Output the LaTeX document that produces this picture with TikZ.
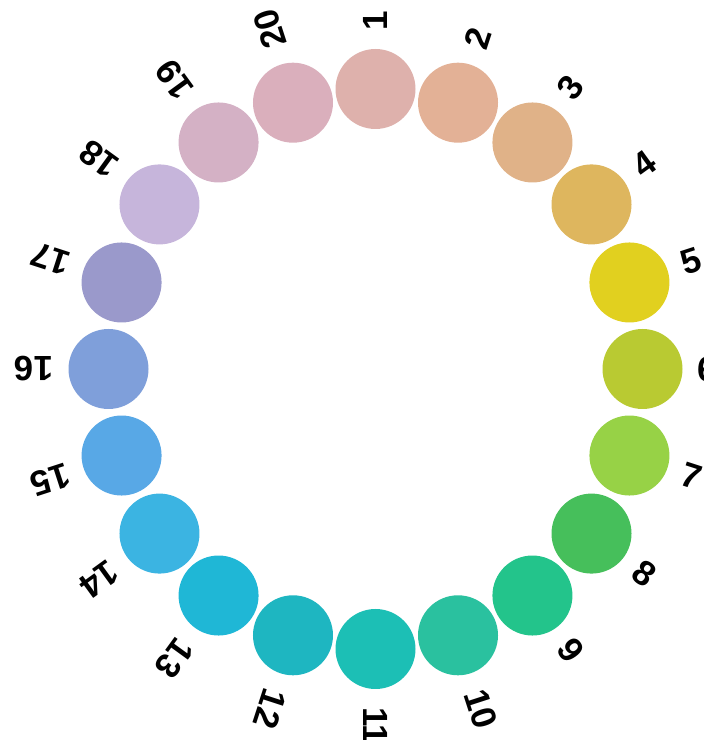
\documentclass[tikz,border=0pt]{standalone}
\usepackage{fontspec}
\setmainfont{Liberation Sans}
\definecolor{c1}{HTML}{DEB1AC}
\definecolor{c2}{HTML}{E3B196}
\definecolor{c3}{HTML}{E0B288}
\definecolor{c4}{HTML}{DEB65E}
\definecolor{c5}{HTML}{E1D01F}
\definecolor{c6}{HTML}{B9CA32}
\definecolor{c7}{HTML}{97D246}
\definecolor{c8}{HTML}{46BF5B}
\definecolor{c9}{HTML}{23C48B}
\definecolor{c10}{HTML}{2AC19F}
\definecolor{c11}{HTML}{1CBFB5}
\definecolor{c12}{HTML}{1EB6C1}
\definecolor{c13}{HTML}{1FB7D6}
\definecolor{c14}{HTML}{3BB4E2}
\definecolor{c15}{HTML}{58A8E6}
\definecolor{c16}{HTML}{7F9FDA}
\definecolor{c17}{HTML}{9A99CB}
\definecolor{c18}{HTML}{C6B5DB}
\definecolor{c19}{HTML}{D4B1C5}
\definecolor{c20}{HTML}{DAAFBC}
\begin{document}
\begin{tikzpicture}[x=1pt,y=1pt,
  dot/.style={circle,minimum size=80pt,inner sep=0pt,draw=none},
  lab/.style={font=\fontsize{35}{35}\selectfont\bfseries,inner sep=0pt,anchor=west}]
\useasboundingbox (0,0) rectangle (704,740);
\foreach \i in {1,...,20} {
  \pgfmathsetmacro\a{90-18*(\i-1)}
  \node[dot,fill=c\i] (d\i) at ({375.5+267*cos(\a)},{371+280*sin(\a)}) {};
  \node[lab,rotate=\a] (l\i) at ({375.5+322*cos(\a)},{371+338*sin(\a)}) {\i};
}
\end{tikzpicture}
\end{document}
